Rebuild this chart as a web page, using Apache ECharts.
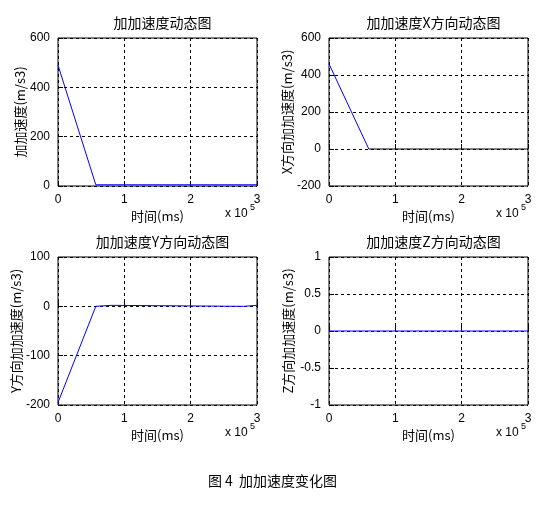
<!DOCTYPE html>
<html><head><meta charset="utf-8">
<script src="https://cdn.jsdelivr.net/npm/echarts@6/dist/echarts.min.js"></script>
<style>body{margin:0;background:#fff}#c{width:545px;height:507px}</style>
</head><body><div id="c"></div>
<script>
// x in units of 1e5 ms
var titles = ['加加速度动态图', '加加速度X方向动态图', '加加速度Y方向动态图', '加加速度Z方向动态图'];
var yNames = ['加加速度(m/s3)', 'X方向加加速度(m/s3)', 'Y方向加加速度(m/s3)', 'Z方向加加速度(m/s3)'];
var yRanges = [[0, 600, 200], [-200, 600, 200], [-200, 100, 100], [-1, 1, 0.5]];
var totalData = [[0, 490], [0.57, 5], [3, 5]];
var xBlue = [[0, 460], [0.6, 0]];
var xBlack = [[0.6, 0], [3, 0]];
var yData = [[0, -195], [0.57, 0], [0.6, 2], [0.8, 2], [0.8, 0], [2.8, 0], [2.8, 2], [3, 2]];
var zData = [[0, 0], [3, 0]];

var font = '"Noto Sans CJK SC", sans-serif';
var grids = [
  {left: 58, top: 38, width: 199, height: 148},
  {left: 329, top: 38, width: 199, height: 148},
  {left: 58, top: 257, width: 199, height: 148},
  {left: 329, top: 257, width: 199, height: 148}
];
var dash = {show: true, lineStyle: {color: '#000', type: [3, 3], width: 1}};
var xAxes = [], yAxes = [], titleArr = [], graphics = [];
grids.forEach(function (g, i) {
  g.show = true; g.borderColor = '#000'; g.borderWidth = 1;
  xAxes.push({type: 'value', gridIndex: i, min: 0, max: 3, interval: 1,
    axisLine: {show: false}, axisTick: {show: true, inside: true, lineStyle: {color: '#000'}},
    axisLabel: {color: '#000', fontSize: 12, fontFamily: 'Arial'}, splitLine: dash,
    name: '时间(ms)', nameLocation: 'middle', nameGap: 24,
    nameTextStyle: {color: '#000', fontSize: 13, fontFamily: font}});
  var r = yRanges[i];
  yAxes.push({type: 'value', gridIndex: i, min: r[0], max: r[1], interval: r[2],
    axisLine: {show: false}, axisTick: {show: true, inside: true, lineStyle: {color: '#000'}},
    axisLabel: {color: '#000', fontSize: 12, fontFamily: 'Arial'}, splitLine: dash,
    name: yNames[i], nameLocation: 'middle', nameGap: i === 3 ? 34 : 30,
    nameTextStyle: {color: '#000', fontSize: 13, fontFamily: font}});
  titleArr.push({text: titles[i], left: g.left + g.width / 2, top: g.top - 27, textAlign: 'center',
    textStyle: {color: '#000', fontSize: 14, fontWeight: 'normal', fontFamily: font}});
  graphics.push({type: 'text', left: g.left + g.width - 32, top: g.top + g.height + 22,
    style: {text: 'x 10', fill: '#000', font: '12px Arial'}});
  graphics.push({type: 'text', left: g.left + g.width - 7, top: g.top + g.height + 17,
    style: {text: '5', fill: '#000', font: '9px Arial'}});
});
graphics.push({type: 'text', left: 'center', top: 474,
  style: {text: '图 4  加加速度变化图', fill: '#000', font: '14px "Noto Sans CJK SC"'}});

function line(i, data, color) {
  return {type: 'line', xAxisIndex: i, yAxisIndex: i, data: data, symbol: 'none',
    lineStyle: {color: color, width: 1}, animation: false};
}
var chart = echarts.init(document.getElementById('c'));
chart.setOption({
  backgroundColor: '#fff',
  title: titleArr,
  grid: grids,
  xAxis: xAxes,
  yAxis: yAxes,
  graphic: graphics,
  series: [
    line(0, totalData, '#0000ff'),
    line(1, xBlue, '#0000ff'),
    line(1, xBlack, '#000'),
    line(2, yData, '#0000ff'),
    line(3, zData, '#0000ff')
  ]
});
</script></body></html>
